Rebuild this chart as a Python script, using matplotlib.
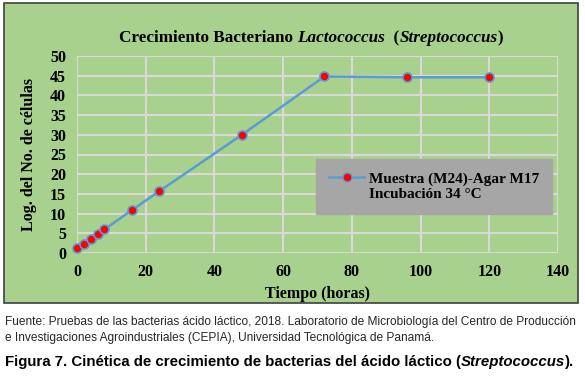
import matplotlib.pyplot as plt
from matplotlib.lines import Line2D
from matplotlib.patches import Rectangle

# datos
tiempo = [0, 2, 4, 6, 8, 16, 24, 48, 72, 96, 120]
log_celulas = [1.3, 2.4, 3.6, 4.8, 6.0, 10.9, 15.7, 30.0, 44.8, 44.6, 44.6]
x_ticks = [0, 20, 40, 60, 80, 100, 120, 140]
y_ticks = [0, 5, 10, 15, 20, 25, 30, 35, 40, 45, 50]

W, H = 585, 376
serif = 'Liberation Serif'
sans = 'Liberation Sans'


def texto_partes(fig, x, y, partes, ha='left', **kw):
    """Escribe varios trozos de texto seguidos (normal / cursiva) en la misma línea."""
    r = fig.canvas.get_renderer()
    objs = []
    ancho = 0
    for s, estilo in partes:
        t = fig.text(0, y, s, va='center', fontstyle=estilo, **kw)
        ancho += t.get_window_extent(r).width
        objs.append(t)
    x0 = x * W - (ancho / 2 if ha == 'center' else 0)
    for t in objs:
        t.set_x(x0 / W)
        x0 += t.get_window_extent(r).width


fig = plt.figure(figsize=(W / 100, H / 100), dpi=100)
fig.patch.set_facecolor('white')

# panel verde de fondo
fig.patches.append(Rectangle((4 / W, (H - 303) / H), 574 / W, 300 / H,
                             transform=fig.transFigure, facecolor='#A9D18E',
                             edgecolor='#404040', linewidth=1.2, zorder=0))

ax = fig.add_axes([77 / W, (H - 253) / H, 481 / W, 197 / H])
ax.set_zorder(2)
ax.set_facecolor('#A9D18E')
ax.plot(tiempo, log_celulas, color='#5B9BD5', linewidth=1.8, marker='o',
        markersize=6.5, markerfacecolor='red', markeredgecolor='#5B9BD5',
        markeredgewidth=1.2, zorder=3, clip_on=False)

ax.set_xlim(0, 140)
ax.set_ylim(0, 50)
ax.set_xticks(x_ticks)
ax.set_yticks(y_ticks)
ax.grid(True, color='#D9D9D9', linewidth=1.5)
ax.set_axisbelow(True)
for s in ax.spines.values():
    s.set_visible(False)
ax.tick_params(length=0, pad=8, labelsize=11.5)
for lbl in ax.get_xticklabels() + ax.get_yticklabels():
    lbl.set_fontfamily(serif)
    lbl.set_fontweight('bold')

ax.set_xlabel('Tiempo (horas)', fontfamily=serif, fontweight='bold', fontsize=11.5, labelpad=4)
ax.set_ylabel('Log. del No. de células', fontfamily=serif, fontweight='bold', fontsize=11.5, labelpad=9)

texto_partes(fig, 311 / W, 1 - 38 / H,
             [('Crecimiento Bacteriano ', 'normal'), ('Lactococcus', 'italic'),
              ('  (', 'normal'), ('Streptococcus', 'italic'), (')', 'normal')],
             ha='center', fontfamily=serif, fontweight='bold', fontsize=12.3)

# leyenda
h1 = Line2D([], [], color='#5B9BD5', linewidth=1.8, marker='o', markersize=6.5,
            markerfacecolor='red', markeredgecolor='#5B9BD5')
h2 = Line2D([], [], linestyle='none')
leg = ax.legend([h1, h2], ['Muestra (M24)-Agar M17', 'Incubación 34 °C'],
                loc='upper left', bbox_to_anchor=((316 - 77) / 481, (253 - 159) / 197),
                prop={'family': serif, 'weight': 'bold', 'size': 11},
                frameon=True, fancybox=False, borderpad=0.85, labelspacing=0.1,
                handlelength=2.3, handletextpad=0.3, borderaxespad=0)
leg.get_frame().set_facecolor('#A6A6A6')
leg.get_frame().set_edgecolor('#A6A6A6')
leg.get_frame().set_alpha(1)

fig.text(5 / W, 1 - 322 / H,
         'Fuente: Pruebas de las bacterias ácido láctico, 2018. Laboratorio de Microbiología del Centro de Producción',
         ha='left', va='center', fontfamily=sans, fontsize=8.6, color='#262626')
fig.text(5 / W, 1 - 338 / H,
         'e Investigaciones Agroindustriales (CEPIA), Universidad Tecnológica de Panamá.',
         ha='left', va='center', fontfamily=sans, fontsize=8.6, color='#262626')
texto_partes(fig, 5 / W, 1 - 362 / H,
             [('Figura 7. Cinética de crecimiento de bacterias del ácido láctico (', 'normal'),
              ('Streptococcus', 'italic'), (').', 'normal')],
             fontfamily=sans, fontweight='bold', fontsize=10.8)

fig.savefig('out.png', dpi=100)
